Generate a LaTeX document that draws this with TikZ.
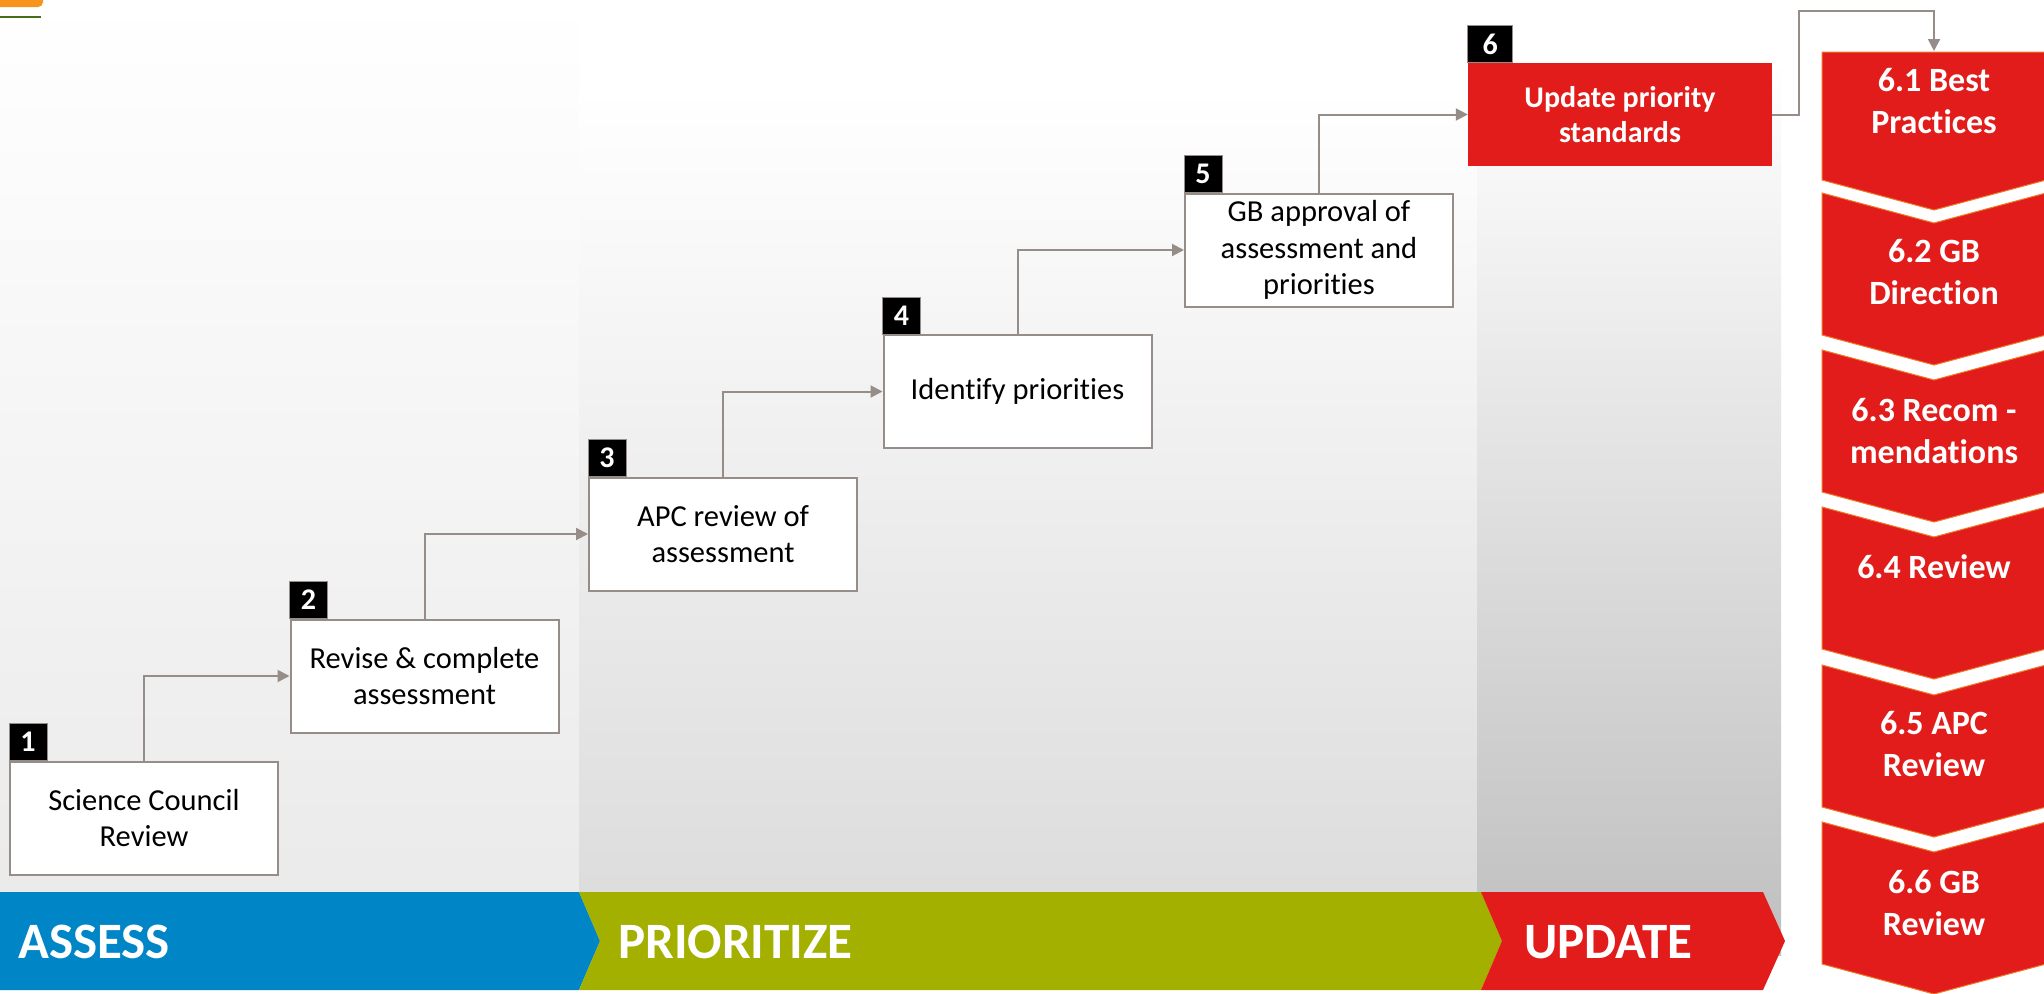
\documentclass[tikz,border=0pt]{standalone}
\usepackage{fontspec}
\setmainfont{Carlito}[Ligatures={NoCommon}]
\usetikzlibrary{arrows.meta}
\definecolor{bgblue}{RGB}{0,134,198}
\definecolor{bggreen}{RGB}{163,176,0}
\definecolor{bgred}{RGB}{226,28,26}
\definecolor{lineg}{RGB}{150,141,137}
\definecolor{orng}{RGB}{247,148,29}
\definecolor{chevedge}{RGB}{240,120,40}
\definecolor{darkgr}{RGB}{70,110,20}
\definecolor{pone}{RGB}{233,233,233}
\definecolor{ptwo}{RGB}{218,218,218}
\definecolor{pthree}{RGB}{191,191,191}
\begin{document}
\begin{tikzpicture}[x=1pt,y=-1pt,
  stepbox/.style={draw=lineg, line width=2pt, fill=white, minimum width=268, minimum height=113, inner sep=2pt, align=center, font=\fontsize{30.5}{36.5}\selectfont},
  numtag/.style={fill=black, draw=lineg, line width=1pt, text=white, minimum width=38, minimum height=37, inner sep=0pt, outer sep=0pt, font=\bfseries\fontsize{30}{32}\selectfont, anchor=south west},
  conn/.style={draw=lineg, line width=2pt, -{Triangle[length=12pt,width=12pt]}},
  chev/.style={fill=bgred, draw=chevedge, line width=1pt},
  chevtxt/.style={text=white, align=center, inner sep=0pt, font=\bfseries\fontsize{34}{42}\selectfont},
  bartxt/.style={text=white, anchor=base west, inner sep=0pt, font=\bfseries\fontsize{51}{60}\selectfont}
]
\useasboundingbox (0,0) rectangle (2044,993);
\fill[white] (0,0) rectangle (2044,993);
% background panels
\shade[top color=white, bottom color=pone] (0,0) rectangle (579,955);
\shade[top color=white, bottom color=ptwo] (579,90) rectangle (1477,955);
\shade[top color=white, bottom color=pthree] (1477,60) rectangle (1781,955);
% corner marks
\fill[orng, rounded corners=5pt] (-10,-10) rectangle (43,7);
\draw[darkgr, line width=2pt] (0,16.5) -- (41,16.5);
% bottom bar
\fill[bgblue] (0,892) -- (579,892) -- (600,941) -- (579,990) -- (0,990) -- cycle;
\fill[bggreen] (579,892) -- (1481,892) -- (1502,941) -- (1481,990) -- (579,990) -- (600,941) -- cycle;
\fill[bgred] (1481,892) -- (1763,892) -- (1785,941) -- (1763,990) -- (1481,990) -- (1502,941) -- cycle;
\node[bartxt] (tassess) at (18,958) {ASSESS};
\node[bartxt] (tprio) at (618,958) {PRIORITIZE};
\node[bartxt] (tupdate) at (1524,958) {UPDATE};
% step boxes
\node[stepbox] (b1) at (144,818) {Science Council\\Review};
\node[stepbox] (b2) at (424.5,676) {Revise \& complete\\assessment};
\node[stepbox] (b3) at (723,534) {APC review of\\assessment};
\node[stepbox] (b4) at (1017.5,391.5) {Identify priorities};
\node[stepbox] (b5) at (1319,250) {GB approval of\\assessment and\\priorities};
\node[fill=bgred, text=white, minimum width=304, minimum height=103, inner sep=2pt, align=center, font=\bfseries\fontsize{30}{35}\selectfont] (b6) at (1620,114.5) {Update priority\\standards};
% number tags
\node[numtag] (n1) at (b1.north west) {1};
\node[numtag] (n2) at (b2.north west) {2};
\node[numtag] (n3) at (b3.north west) {3};
\node[numtag] (n4) at (b4.north west) {4};
\node[numtag] (n5) at (b5.north west) {5};
\node[numtag, minimum width=45] (n6) at (b6.north west) {6};
% connectors
\draw[conn] (b1.north) |- (b2.west);
\draw[conn] (b2.north) |- (b3.west);
\draw[conn] (b3.north) |- (b4.west);
\draw[conn] (b4.north) |- (b5.west);
\draw[conn] (b5.north) |- (b6.west);
% chevrons
\path[chev] (1822,52) -- (2046,52) -- (2046,180) -- (1934,210) -- (1822,180) -- cycle;
\foreach \t in {193,350,507,665,822}{
  \path[chev] (1822,\t) -- (1934,\t+30) -- (2046,\t) -- (2046,\t+142) -- (1934,\t+172) -- (1822,\t+142) -- cycle;
}
\coordinate (c1top) at (1934,51);
\coordinate (k1) at (1799,11);
\node[chevtxt] (c1) at (1934,101) {6.1 Best\\Practices};
\node[chevtxt] (c2) at (1934,272) {6.2 GB\\Direction};
\node[chevtxt] (c3) at (1934,431) {6.3 Recom -\\mendations};
\node[chevtxt] (c4) at (1934,567) {6.4 Review};
\node[chevtxt] (c5) at (1934,744) {6.5 APC\\Review};
\node[chevtxt] (c6) at (1934,903) {6.6 GB\\Review};
\draw[conn] (b6.east) -| (k1) -| (c1top);
\end{tikzpicture}
\end{document}
